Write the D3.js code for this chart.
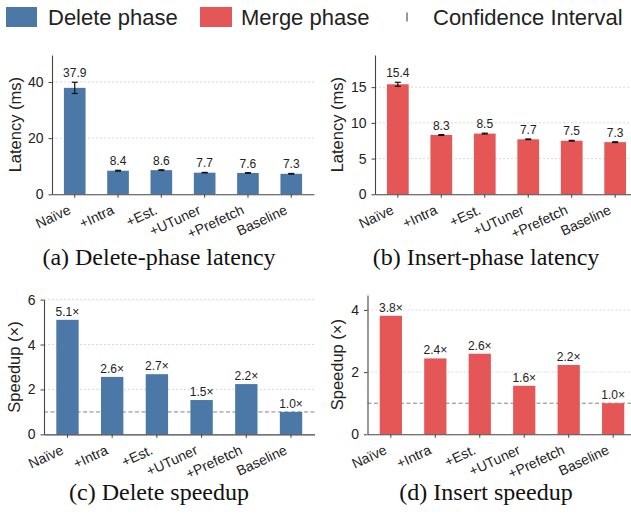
<!DOCTYPE html>
<html>
<head>
<meta charset="utf-8">
<script src="https://cdn.jsdelivr.net/npm/d3@7"></script>
<style>
  body { margin: 0; background: #fff; }
  svg { display: block; font-family: "Liberation Sans", Arial, sans-serif; }
</style>
</head>
<body>
<div id="chart"></div>
<script>
// data
const categories = ['Naïve', '+Intra', '+Est.', '+UTuner', '+Prefetch', 'Baseline'];

const deleteLatency = [37.9, 8.4, 8.6, 7.7, 7.6, 7.3];
const deleteLatencyErr = [2.0, 0.15, 0.12, 0.1, 0.1, 0.12];
const insertLatency = [15.4, 8.3, 8.5, 7.7, 7.5, 7.3];
const insertLatencyErr = [0.28, 0.06, 0.06, 0.05, 0.05, 0.06];
const deleteSpeedup = [5.1, 2.56, 2.68, 1.53, 2.24, 1.0];
const insertSpeedup = [3.81, 2.44, 2.59, 1.56, 2.23, 1.0];

const deleteLatencyTicks = [0, 20, 40];
const insertLatencyTicks = [0, 5, 10, 15];
const deleteSpeedupTicks = [0, 2, 4, 6];
const insertSpeedupTicks = [0, 2, 4];

const legendItems = ['Delete phase', 'Merge phase', 'Confidence Interval'];
const captions = ['(a) Delete-phase latency', '(b) Insert-phase latency', '(c) Delete speedup', '(d) Insert speedup'];

const BLUE = '#4c78a8';
const RED = '#e45756';
const TEXT = '#222';

const width = 631, height = 516;

const svg = d3.select('#chart')
  .append('svg')
  .attr('width', width)
  .attr('height', height);

svg.append('rect').attr('width', width).attr('height', height).attr('fill', '#fff');

function drawPanel(p) {
  const x = d3.scaleBand()
    .domain(categories)
    .range([p.left, p.right])
    .paddingInner(0.5)
    .paddingOuter(0.275);

  const y = d3.scaleLinear()
    .domain([0, p.ymax])
    .range([p.bottom, p.top]);

  const g = svg.append('g');

  // grid
  g.selectAll('.grid')
    .data(p.ticks.filter(t => t > 0))
    .enter()
    .append('line')
    .attr('x1', p.left)
    .attr('x2', p.right)
    .attr('y1', d => y(d))
    .attr('y2', d => y(d))
    .attr('stroke', '#d0d0d0')
    .attr('stroke-width', 0.8)
    .attr('stroke-dasharray', '2,2');

  if (p.refLine) {
    g.append('line')
      .attr('x1', p.left)
      .attr('x2', p.right)
      .attr('y1', y(1))
      .attr('y2', y(1))
      .attr('stroke', '#777')
      .attr('stroke-width', 0.9)
      .attr('stroke-dasharray', '4,2.5');
  }

  g.selectAll('.bar')
    .data(p.values)
    .enter()
    .append('rect')
    .attr('x', (d, i) => x(categories[i]))
    .attr('y', d => y(d))
    .attr('width', x.bandwidth())
    .attr('height', d => y(0) - y(d))
    .attr('fill', p.color);

  if (p.errors) {
    const cx = i => x(categories[i]) + x.bandwidth() / 2;
    const eb = g.selectAll('.err')
      .data(p.values)
      .enter()
      .append('g')
      .attr('stroke', '#111')
      .attr('stroke-width', 1.2);
    eb.append('line')
      .attr('x1', (d, i) => cx(i)).attr('x2', (d, i) => cx(i))
      .attr('y1', (d, i) => y(d - p.errors[i]))
      .attr('y2', (d, i) => y(d + p.errors[i]));
    eb.append('line')
      .attr('x1', (d, i) => cx(i) - 3).attr('x2', (d, i) => cx(i) + 3)
      .attr('y1', (d, i) => y(d + p.errors[i]))
      .attr('y2', (d, i) => y(d + p.errors[i]));
    eb.append('line')
      .attr('x1', (d, i) => cx(i) - 3).attr('x2', (d, i) => cx(i) + 3)
      .attr('y1', (d, i) => y(d - p.errors[i]))
      .attr('y2', (d, i) => y(d - p.errors[i]));
  }

  // value labels
  g.selectAll('.val')
    .data(p.values)
    .enter()
    .append('text')
    .attr('x', (d, i) => x(categories[i]) + x.bandwidth() / 2)
    .attr('y', (d, i) => y(d + (p.errors ? p.errors[i] : 0)) - (p.errors ? 5 : 4))
    .attr('text-anchor', 'middle')
    .attr('font-size', '12px')
    .attr('fill', TEXT)
    .text(d => d.toFixed(1) + (p.suffix || ''));

  // axes
  const yAxis = g.append('g')
    .attr('transform', 'translate(' + p.left + ',0)')
    .call(d3.axisLeft(y).tickValues(p.ticks).tickFormat(d3.format('d'))
      .tickSize(3.5).tickPadding(5).tickSizeOuter(0));

  const xAxis = g.append('g')
    .attr('transform', 'translate(0,' + p.bottom + ')')
    .call(d3.axisBottom(x).tickSize(3.5).tickSizeOuter(0));

  xAxis.selectAll('.tick text')
    .attr('x', 0)
    .attr('y', 0)
    .attr('dy', 0)
    .attr('text-anchor', 'end')
    .attr('transform', 'translate(-3,19) rotate(-25)');

  [xAxis, yAxis].forEach(a => {
    a.select('.domain').attr('stroke', '#444').attr('stroke-width', 1.1);
    a.selectAll('.tick line').attr('stroke', '#444').attr('stroke-width', 1);
    a.selectAll('.tick text')
      .attr('fill', TEXT)
      .attr('font-size', '14px')
      .attr('font-family', '"Liberation Sans", Arial, sans-serif');
  });

  g.append('text')
    .attr('transform', 'translate(' + p.labelX + ',' + ((p.top + p.bottom) / 2) + ') rotate(-90)')
    .attr('text-anchor', 'middle')
    .attr('dominant-baseline', 'central')
    .attr('font-size', '16.5px')
    .attr('fill', TEXT)
    .text(p.label);
}

drawPanel({
  values: deleteLatency, errors: deleteLatencyErr, ticks: deleteLatencyTicks,
  color: BLUE, label: 'Latency (ms)',
  left: 52, right: 314, top: 55, bottom: 194.3, ymax: 49.6, labelX: 15
});
drawPanel({
  values: insertLatency, errors: insertLatencyErr, ticks: insertLatencyTicks,
  color: RED, label: 'Latency (ms)',
  left: 375, right: 638, top: 55, bottom: 194.3, ymax: 19.5, labelX: 337
});
drawPanel({
  values: deleteSpeedup, ticks: deleteSpeedupTicks, suffix: '×', refLine: true,
  color: BLUE, label: 'Speedup (×)',
  left: 44, right: 314.5, top: 299.6, bottom: 434.4, ymax: 6, labelX: 14
});
drawPanel({
  values: insertSpeedup, ticks: insertSpeedupTicks, suffix: '×', refLine: true,
  color: RED, label: 'Speedup (×)',
  left: 367.5, right: 636.5, top: 295, bottom: 434.3, ymax: 4.48, labelX: 337
});

// legend
const legend = svg.append('g').attr('font-size', '22px').attr('fill', TEXT);
legend.append('rect').attr('x', 6).attr('y', 7).attr('width', 31).attr('height', 20).attr('fill', BLUE);
legend.append('text').attr('x', 48).attr('y', 17).attr('dominant-baseline', 'central').text(legendItems[0]);
legend.append('rect').attr('x', 200).attr('y', 7).attr('width', 32).attr('height', 20).attr('fill', RED);
legend.append('text').attr('x', 241).attr('y', 17).attr('dominant-baseline', 'central').text(legendItems[1]);
legend.append('line').attr('x1', 407).attr('x2', 407).attr('y1', 12.5).attr('y2', 21.5)
  .attr('stroke', '#555').attr('stroke-width', 1.2);
legend.append('text').attr('x', 433).attr('y', 17).attr('dominant-baseline', 'central').text(legendItems[2]);

// sub-captions
const capPos = [[159, 265], [486, 265], [159, 500], [486, 500]];
svg.selectAll('.caption')
  .data(captions)
  .enter()
  .append('text')
  .attr('x', (d, i) => capPos[i][0])
  .attr('y', (d, i) => capPos[i][1])
  .attr('text-anchor', 'middle')
  .attr('font-family', '"Liberation Serif", "Times New Roman", serif')
  .attr('font-size', '24px')
  .attr('fill', '#111')
  .text(d => d);
</script>
</body>
</html>
